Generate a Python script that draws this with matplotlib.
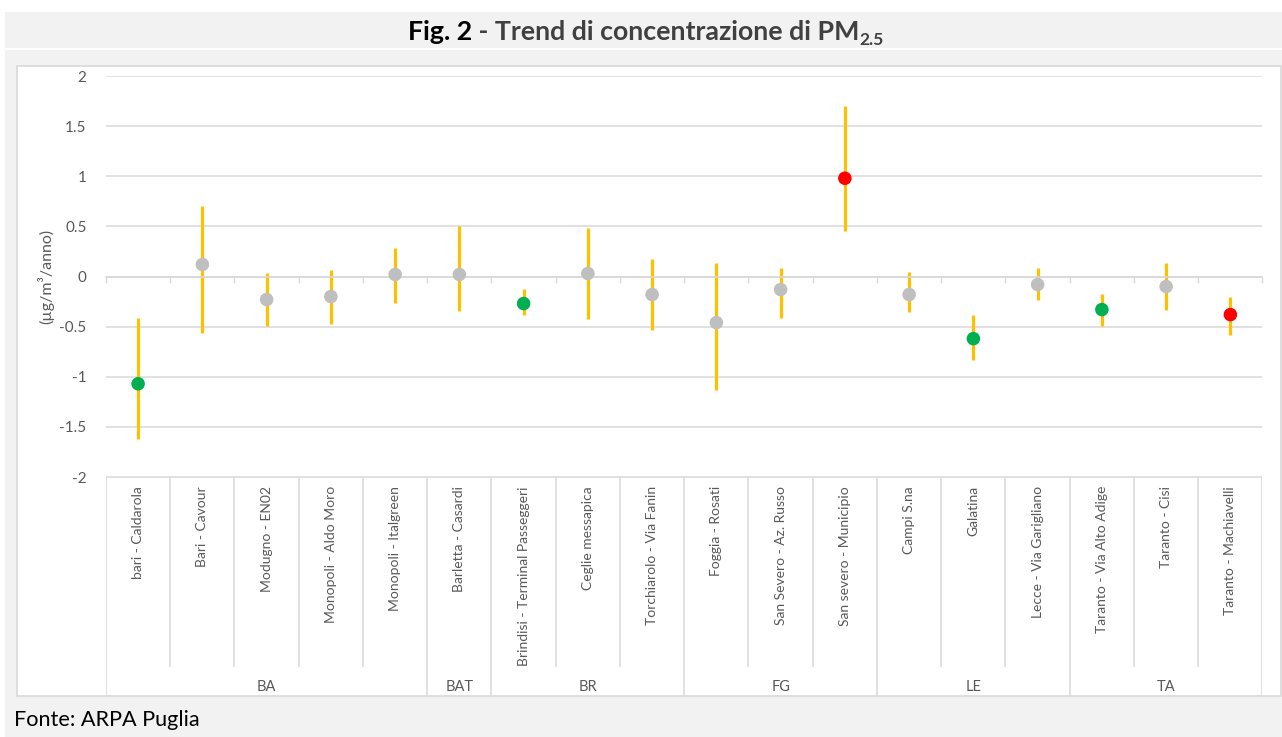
import matplotlib.pyplot as plt
from matplotlib.patches import Rectangle

# station trend data (µg/m3/anno)
stations = ["bari - Caldarola", "Bari - Cavour", "Modugno - EN02", "Monopoli - Aldo Moro",
            "Monopoli - Italgreen", "Barletta - Casardi", "Brindisi - Terminal Passeggeri",
            "Ceglie messapica", "Torchiarolo - Via Fanin", "Foggia - Rosati",
            "San Severo - Az. Russo", "San severo - Municipio", "Campi S.na", "Galatina",
            "Lecce - Via Garigliano", "Taranto - Via Alto Adige", "Taranto - Cisi",
            "Taranto - Machiavelli"]
trend = [-1.07, 0.12, -0.23, -0.20, 0.02, 0.02, -0.27, 0.03, -0.18, -0.46,
         -0.13, 0.98, -0.18, -0.62, -0.08, -0.33, -0.10, -0.38]
upper = [-0.41, 0.70, 0.03, 0.06, 0.28, 0.50, -0.12, 0.48, 0.17, 0.13,
         0.08, 1.70, 0.04, -0.38, 0.08, -0.17, 0.13, -0.20]
lower = [-1.62, -0.56, -0.49, -0.47, -0.26, -0.34, -0.38, -0.42, -0.53, -1.13,
         -0.41, 0.45, -0.35, -0.83, -0.23, -0.49, -0.33, -0.58]
status = ["down", "flat", "flat", "flat", "flat", "flat", "down", "flat", "flat", "flat",
          "flat", "up", "flat", "down", "flat", "down", "flat", "up"]
groups = ["BA", "BAT", "BR", "FG", "LE", "TA"]
group_sizes = [5, 1, 3, 3, 3, 3]

status_colors = {"down": "#00B050", "flat": "#BFBFBF", "up": "#FF0000"}
BAR = "#FFC000"
GRID = "#D9D9D9"
TXT = "#595959"
BG = "#F2F2F2"

plt.rcParams["font.family"] = ["Lato", "DejaVu Sans"]

W, H = 1282, 737
fig = plt.figure(figsize=(W / 100, H / 100), dpi=100, facecolor="white")

def px_rect(x0, y0, x1, y1, z, **kw):
    r = Rectangle((x0 / W, 1 - y1 / H), (x1 - x0) / W, (y1 - y0) / H,
                  transform=fig.transFigure, zorder=z, **kw)
    fig.patches.append(r)

# background bands (below the axes)
px_rect(5, 12, W, 48, -3, facecolor=BG, edgecolor="none")
px_rect(5, 50, W, H, -3, facecolor=BG, edgecolor="none")
px_rect(17, 66, 1281, 696, -2, facecolor="white", edgecolor=GRID, linewidth=1.2)

# main plot area
L, R, T, B = 106, 1262.5, 76, 477
ax = fig.add_axes([L / W, 1 - B / H, (R - L) / W, (B - T) / H])
ax.set_facecolor("none")
n = len(stations)
x = list(range(n))
ax.set_xlim(-0.5, n - 0.5)
ax.set_ylim(-2, 2)
ax.set_yticks([-2, -1.5, -1, -0.5, 0, 0.5, 1, 1.5, 2])
ax.set_yticklabels(["-2", "-1.5", "-1", "-0.5", "0", "0.5", "1", "1.5", "2"])
ax.yaxis.grid(True, color=GRID, linewidth=1.1)
ax.set_axisbelow(True)
for s in ["left", "right", "top"]:
    ax.spines[s].set_visible(False)
ax.spines["bottom"].set_position(("data", 0))
ax.spines["bottom"].set_color(GRID)
ax.spines["bottom"].set_linewidth(1.1)
ax.set_xticks([])
ax.set_xticks([i - 0.5 for i in range(n + 1)], minor=True)
ax.tick_params(axis="x", which="minor", length=4, color=GRID, width=1, direction="out")
ax.tick_params(axis="y", length=0, pad=14, labelsize=11, labelcolor=TXT)
ax.set_ylabel("(µg/m³/anno)", fontsize=11.5, color=TXT, labelpad=4)

ax.vlines(x, lower, upper, color=BAR, linewidth=2.3, zorder=2)
ax.scatter(x, trend, s=95, c=[status_colors[s] for s in status], zorder=3, linewidths=0)

# category / group label table
tab = fig.add_axes([L / W, 1 - 696 / H, (R - L) / W, (696 - B) / H])
tab.set_facecolor("none")
tab.set_xlim(-0.5, n - 0.5)
tab.set_ylim(696 - B, 0)
tab.axis("off")
tab.axhline(0, color=GRID, linewidth=1.1)
bounds = [-0.5]
for g in group_sizes:
    bounds.append(bounds[-1] + g)
for i in range(n + 1):
    xb = i - 0.5
    ymax = 696 - B if xb in bounds else 667 - B
    tab.plot([xb, xb], [0, ymax], color=GRID, linewidth=1.1, solid_capstyle="butt")
for i, name in enumerate(stations):
    tab.text(i, 9, name, rotation=90, ha="center", va="top", fontsize=10, color=TXT)
for g, b0, b1 in zip(groups, bounds[:-1], bounds[1:]):
    tab.text((b0 + b1) / 2, 210, g, ha="center", va="center", fontsize=10.5, color=TXT)

# title made of coloured pieces
t1 = fig.text(0, 0, "Fig. 2", fontsize=19.3, fontweight="bold", color="black",
              ha="left", va="baseline")
t2 = fig.text(0, 0, " - Trend di concentrazione di PM", fontsize=19.3, fontweight="bold",
              color="#404040", ha="left", va="baseline")
t3 = fig.text(0, 0, "2.5", fontsize=12.5, fontweight="bold", color="#404040",
              ha="left", va="baseline")
fig.canvas.draw()
r = fig.canvas.get_renderer()
w1 = t1.get_window_extent(r).width
w2 = t2.get_window_extent(r).width
w3 = t3.get_window_extent(r).width
x0 = (W - (w1 + w2 + w3)) / 2 + 5
base = H - 40
t1.set_position((x0 / W, base / H))
t2.set_position(((x0 + w1) / W, base / H))
t3.set_position(((x0 + w1 + w2) / W, (base - 5) / H))

fig.text(14 / W, 1 - 720 / H, "Fonte: ARPA Puglia", fontsize=15.6, color="black",
         ha="left", va="center")

fig.savefig("out.png", dpi=100, facecolor="white")
